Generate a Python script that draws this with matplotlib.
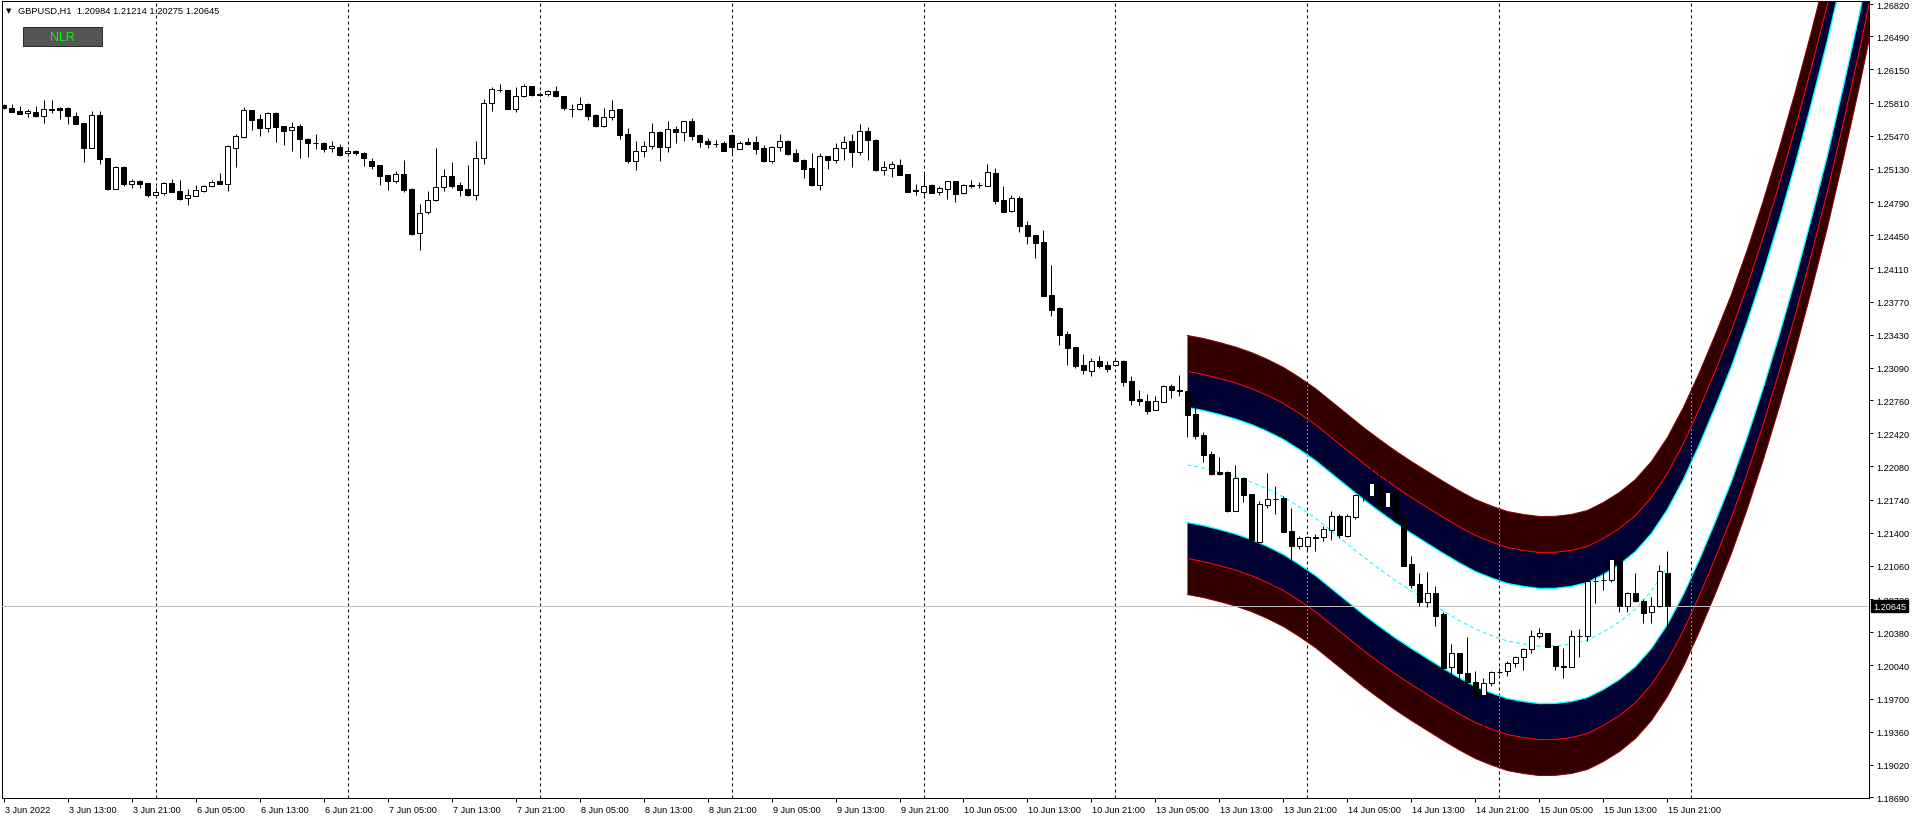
import matplotlib
matplotlib.use("Agg")
import numpy as np
import matplotlib.pyplot as plt
from matplotlib.patches import Rectangle
from matplotlib.transforms import ScaledTranslation, blended_transform_factory

# GBPUSD H1 candles, 3 Jun 05:00 .. 15 Jun 21:00 (one entry per hour bar)
opens = [
    1.25784, 1.25754, 1.25723, 1.25699, 1.25713, 1.25675, 1.25740, 1.25754, 1.25754, 1.25672,
    1.25600, 1.25347, 1.25682, 1.25241, 1.24927, 1.25149, 1.24978, 1.25002, 1.24985, 1.24865,
    1.24886, 1.24981, 1.24899, 1.24828, 1.24855, 1.24906, 1.24951, 1.25002, 1.24978, 1.25347,
    1.25460, 1.25730, 1.25638, 1.25545, 1.25702, 1.25569, 1.25525, 1.25569, 1.25436, 1.25395,
    1.25395, 1.25340, 1.25354, 1.25292, 1.25313, 1.25292, 1.25214, 1.25169, 1.25063, 1.25009,
    1.25077, 1.24923, 1.24469, 1.24684, 1.24807, 1.24940, 1.25053, 1.24961, 1.24923, 1.24865,
    1.25238, 1.25802, 1.25942, 1.25938, 1.25747, 1.25873, 1.25976, 1.25901, 1.25894, 1.25925,
    1.25873, 1.25743, 1.25740, 1.25791, 1.25682, 1.25573, 1.25658, 1.25743, 1.25487, 1.25214,
    1.25309, 1.25368, 1.25511, 1.25357, 1.25538, 1.25504, 1.25617, 1.25473, 1.25415, 1.25388,
    1.25395, 1.25473, 1.25337, 1.25402, 1.25405, 1.25344, 1.25214, 1.25350, 1.25415, 1.25289,
    1.25221, 1.25139, 1.24968, 1.25258, 1.25224, 1.25340, 1.25415, 1.25306, 1.25518, 1.25426,
    1.25121, 1.25142, 1.25169, 1.25077, 1.24910, 1.24896, 1.24964, 1.24889, 1.24927, 1.25002,
    1.24879, 1.24961, 1.24968, 1.24957, 1.25087, 1.24807, 1.24701, 1.24831, 1.24554, 1.24452,
    1.24380, 1.23837, 1.23704, 1.23437, 1.23300, 1.23119, 1.23061, 1.23160, 1.23119, 1.23123,
    1.23157, 1.22952, 1.22771, 1.22754, 1.22661, 1.22743, 1.22904, 1.22860, 1.22849, 1.22616,
    1.22401, 1.22206, 1.22018, 1.22018, 1.21625, 1.21957, 1.21796, 1.21307, 1.21687, 1.21745,
    1.21752, 1.21417, 1.21266, 1.21266, 1.21352, 1.21359, 1.21430, 1.21567, 1.21369, 1.21557,
    1.21786, 1.21772, 1.21909, 1.21666, 1.21813, 1.21546, 1.21078, 1.20873, 1.20685, 1.20781,
    1.20566, 1.20019, 1.20162, 1.19961, 1.19865, 1.19739, 1.19855, 1.19968, 1.19978, 1.20060,
    1.20121, 1.20207, 1.20337, 1.20367, 1.20234, 1.20029, 1.20026, 1.20337, 1.20337, 1.20908,
    1.20914, 1.20918, 1.21136, 1.20644, 1.20777, 1.20696, 1.20583, 1.20644, 1.20984,
]
highs = [
    1.25795, 1.25795, 1.25771, 1.25743, 1.25771, 1.25836, 1.25836, 1.25761, 1.25761, 1.25716,
    1.25600, 1.25726, 1.25726, 1.25241, 1.25156, 1.25156, 1.25026, 1.25016, 1.24985, 1.24940,
    1.24992, 1.25026, 1.25016, 1.24923, 1.24964, 1.24964, 1.25016, 1.25087, 1.25374, 1.25487,
    1.25767, 1.25730, 1.25692, 1.25709, 1.25709, 1.25569, 1.25607, 1.25586, 1.25446, 1.25487,
    1.25409, 1.25419, 1.25385, 1.25350, 1.25327, 1.25299, 1.25238, 1.25169, 1.25067, 1.25111,
    1.25221, 1.24930, 1.24766, 1.24906, 1.25344, 1.25128, 1.25197, 1.24992, 1.25169, 1.25419,
    1.25846, 1.25966, 1.26000, 1.25938, 1.25966, 1.26000, 1.25983, 1.25914, 1.25938, 1.25976,
    1.25880, 1.25798, 1.25863, 1.25802, 1.25696, 1.25750, 1.25832, 1.25743, 1.25549, 1.25412,
    1.25412, 1.25600, 1.25521, 1.25617, 1.25573, 1.25624, 1.25648, 1.25487, 1.25446, 1.25426,
    1.25415, 1.25487, 1.25415, 1.25443, 1.25463, 1.25374, 1.25361, 1.25487, 1.25426, 1.25333,
    1.25231, 1.25292, 1.25292, 1.25265, 1.25395, 1.25463, 1.25487, 1.25590, 1.25555, 1.25436,
    1.25207, 1.25210, 1.25231, 1.25077, 1.24971, 1.25074, 1.24971, 1.24957, 1.25009, 1.25005,
    1.24971, 1.25015, 1.24995, 1.25180, 1.25139, 1.24954, 1.24862, 1.24855, 1.24592, 1.24452,
    1.24503, 1.24145, 1.23711, 1.23471, 1.23300, 1.23232, 1.23191, 1.23208, 1.23164, 1.23191,
    1.23171, 1.23003, 1.22863, 1.22822, 1.22798, 1.22914, 1.22925, 1.23017, 1.22849, 1.22787,
    1.22428, 1.22233, 1.22172, 1.22032, 1.22093, 1.21967, 1.21799, 1.21721, 1.22011, 1.21875,
    1.21772, 1.21652, 1.21369, 1.21369, 1.21386, 1.21464, 1.21618, 1.21591, 1.21591, 1.21796,
    1.21967, 1.22076, 1.22076, 1.22001, 1.21823, 1.21550, 1.21164, 1.20986, 1.20999, 1.20856,
    1.20590, 1.20258, 1.20166, 1.20326, 1.19985, 1.19910, 1.19985, 1.20009, 1.20087, 1.20132,
    1.20217, 1.20402, 1.20419, 1.20367, 1.20241, 1.20217, 1.20402, 1.20412, 1.20924, 1.21027,
    1.21054, 1.21200, 1.21164, 1.20788, 1.20986, 1.20719, 1.20743, 1.21068, 1.21214,
]
lows = [
    1.25743, 1.25709, 1.25689, 1.25658, 1.25658, 1.25597, 1.25699, 1.25641, 1.25590, 1.25590,
    1.25204, 1.25340, 1.25180, 1.24916, 1.24923, 1.24957, 1.24934, 1.24934, 1.24845, 1.24855,
    1.24865, 1.24889, 1.24814, 1.24759, 1.24848, 1.24896, 1.24940, 1.24978, 1.24906, 1.25152,
    1.25443, 1.25532, 1.25470, 1.25504, 1.25409, 1.25378, 1.25316, 1.25245, 1.25255, 1.25333,
    1.25306, 1.25306, 1.25258, 1.25282, 1.25272, 1.25156, 1.25128, 1.24964, 1.24916, 1.24985,
    1.24889, 1.24455, 1.24301, 1.24667, 1.24800, 1.24906, 1.24930, 1.24855, 1.24848, 1.24814,
    1.25180, 1.25726, 1.25914, 1.25743, 1.25716, 1.25863, 1.25880, 1.25880, 1.25880, 1.25866,
    1.25737, 1.25658, 1.25730, 1.25631, 1.25562, 1.25555, 1.25634, 1.25436, 1.25186, 1.25118,
    1.25255, 1.25333, 1.25214, 1.25306, 1.25391, 1.25419, 1.25429, 1.25354, 1.25344, 1.25350,
    1.25309, 1.25282, 1.25333, 1.25374, 1.25282, 1.25200, 1.25190, 1.25316, 1.25275, 1.25203,
    1.25036, 1.24957, 1.24913, 1.25128, 1.25190, 1.25221, 1.25152, 1.25272, 1.25221, 1.25104,
    1.25067, 1.25046, 1.25063, 1.24893, 1.24862, 1.24862, 1.24879, 1.24865, 1.24821, 1.24793,
    1.24872, 1.24930, 1.24930, 1.24951, 1.24770, 1.24688, 1.24691, 1.24486, 1.24359, 1.24216,
    1.23823, 1.23625, 1.23324, 1.23119, 1.23092, 1.23027, 1.23010, 1.23089, 1.23051, 1.23112,
    1.22907, 1.22713, 1.22709, 1.22617, 1.22661, 1.22737, 1.22778, 1.22805, 1.22385, 1.22360,
    1.22127, 1.21991, 1.21991, 1.21615, 1.21622, 1.21717, 1.21239, 1.21307, 1.21652, 1.21591,
    1.21403, 1.21095, 1.21232, 1.21215, 1.21215, 1.21317, 1.21328, 1.21345, 1.21352, 1.21540,
    1.21728, 1.21728, 1.21652, 1.21649, 1.21512, 1.21054, 1.20829, 1.20644, 1.20634, 1.20439,
    1.20002, 1.19933, 1.19899, 1.19865, 1.19728, 1.19370, 1.19831, 1.19951, 1.19933, 1.20019,
    1.19995, 1.20166, 1.20316, 1.20224, 1.19995, 1.19906, 1.20019, 1.20128, 1.20292, 1.20678,
    1.20812, 1.20890, 1.20590, 1.20583, 1.20685, 1.20473, 1.20473, 1.20634, 1.20275,
]
closes = [
    1.25750, 1.25716, 1.25696, 1.25723, 1.25675, 1.25740, 1.25737, 1.25737, 1.25668, 1.25593,
    1.25347, 1.25682, 1.25234, 1.24923, 1.25145, 1.24975, 1.25002, 1.24978, 1.24862, 1.24889,
    1.24981, 1.24896, 1.24821, 1.24862, 1.24910, 1.24951, 1.24992, 1.24978, 1.25361, 1.25463,
    1.25730, 1.25634, 1.25545, 1.25699, 1.25562, 1.25518, 1.25562, 1.25439, 1.25391, 1.25391,
    1.25337, 1.25361, 1.25272, 1.25313, 1.25292, 1.25245, 1.25163, 1.25060, 1.25009, 1.25077,
    1.24916, 1.24465, 1.24674, 1.24807, 1.24940, 1.25053, 1.24951, 1.24916, 1.24862, 1.25238,
    1.25802, 1.25948, 1.25938, 1.25747, 1.25873, 1.25976, 1.25890, 1.25887, 1.25925, 1.25873,
    1.25750, 1.25740, 1.25791, 1.25675, 1.25573, 1.25658, 1.25737, 1.25480, 1.25214, 1.25309,
    1.25361, 1.25504, 1.25357, 1.25535, 1.25504, 1.25617, 1.25470, 1.25409, 1.25381, 1.25385,
    1.25316, 1.25357, 1.25391, 1.25381, 1.25333, 1.25207, 1.25350, 1.25415, 1.25282, 1.25210,
    1.25128, 1.24964, 1.25258, 1.25224, 1.25340, 1.25402, 1.25303, 1.25514, 1.25429, 1.25118,
    1.25145, 1.25176, 1.25070, 1.24896, 1.24906, 1.24951, 1.24886, 1.24930, 1.25002, 1.24875,
    1.24961, 1.24958, 1.24965, 1.25094, 1.24804, 1.24691, 1.24828, 1.24547, 1.24445, 1.24373,
    1.23830, 1.23687, 1.23427, 1.23290, 1.23112, 1.23071, 1.23157, 1.23109, 1.23082, 1.23157,
    1.22948, 1.22764, 1.22754, 1.22651, 1.22747, 1.22901, 1.22860, 1.22857, 1.22610, 1.22394,
    1.22199, 1.22001, 1.22001, 1.21618, 1.21957, 1.21789, 1.21328, 1.21693, 1.21745, 1.21742,
    1.21410, 1.21266, 1.21341, 1.21352, 1.21349, 1.21437, 1.21567, 1.21379, 1.21567, 1.21786,
    1.21783, 1.21909, 1.21670, 1.21813, 1.21533, 1.21061, 1.20866, 1.20692, 1.20781, 1.20549,
    1.20012, 1.20162, 1.19957, 1.19865, 1.19728, 1.19855, 1.19968, 1.19975, 1.20060, 1.20121,
    1.20207, 1.20337, 1.20367, 1.20231, 1.20029, 1.20026, 1.20337, 1.20340, 1.20901, 1.20905,
    1.20918, 1.21129, 1.20644, 1.20777, 1.20696, 1.20576, 1.20651, 1.21003, 1.20645,
]

xtick_labels = [
    "3 Jun 2022", "3 Jun 13:00", "3 Jun 21:00", "6 Jun 05:00", "6 Jun 13:00", "6 Jun 21:00",
    "7 Jun 05:00", "7 Jun 13:00", "7 Jun 21:00", "8 Jun 05:00", "8 Jun 13:00", "8 Jun 21:00",
    "9 Jun 05:00", "9 Jun 13:00", "9 Jun 21:00", "10 Jun 05:00", "10 Jun 13:00", "10 Jun 21:00",
    "13 Jun 05:00", "13 Jun 13:00", "13 Jun 21:00", "14 Jun 05:00", "14 Jun 13:00", "14 Jun 21:00",
    "15 Jun 05:00", "15 Jun 13:00", "15 Jun 21:00",
]
xtick_bars = [8 * k for k in range(len(xtick_labels))]
ytick_values = [
    1.26820, 1.26490, 1.26150, 1.25810, 1.25470, 1.25130, 1.24790, 1.24450, 1.24110,
    1.23770, 1.23430, 1.23090, 1.22760, 1.22420, 1.22080, 1.21740, 1.21400, 1.21060,
    1.20720, 1.20380, 1.20040, 1.19700, 1.19360, 1.19020, 1.18690,
]
day_start_bars = [19, 43, 67, 91, 115, 139, 163, 187, 211]

# non-linear regression channel: centre line sampled every 2 bars, plus band widths
nlr_bars = list(range(148, 237, 2))
nlr_center = [
    1.22094, 1.22063, 1.22022, 1.21976, 1.21919, 1.21848, 1.21766, 1.21663, 1.21550, 1.21417,
    1.21284, 1.21151, 1.21028, 1.20910, 1.20802, 1.20699, 1.20597, 1.20500, 1.20412, 1.20346,
    1.20289, 1.20259, 1.20238, 1.20240, 1.20259, 1.20300, 1.20382, 1.20484, 1.20617, 1.20802,
    1.21048, 1.21356, 1.21714, 1.22104, 1.22514, 1.22975, 1.23478, 1.24021, 1.24595, 1.25210,
    1.25856, 1.26564, 1.27302, 1.28091, 1.28922,
]
nlr_inner, nlr_mid, nlr_outer = 0.00590, 0.00959, 0.01328
last_bar = 208
last_price = 1.20645
header = "GBPUSD,H1  1.20984 1.21214 1.20275 1.20645"

W, H = 1916, 820
fig = plt.figure(figsize=(W / 100, H / 100), dpi=100)
fig.patch.set_facecolor("white")
left, right, top, bottom = 2, 1869, 2, 799
ax = fig.add_axes([left / W, 1 - bottom / H, (right - left) / W, (bottom - top) / H])
ax.set_xlim(-0.2, 233.2)
ax.set_ylim(1.18680, 1.26851)
px = 0.72  # one pixel in points

font = "Liberation Sans"

# period separators
for b in day_start_bars:
    ax.axvline(b, color="black", lw=px, ls=(0, (3, 3)), zorder=1)

# channel
xb = np.array(nlr_bars)
cc = np.array(nlr_center)
maroon, navy = "#330000", "#000033"
fills = [
    ax.fill_between(xb, cc + nlr_mid, cc + nlr_outer, color=maroon, lw=0, zorder=2),
    ax.fill_between(xb, cc + nlr_inner, cc + nlr_mid, color=navy, lw=0, zorder=2),
    ax.fill_between(xb, cc - nlr_mid, cc - nlr_inner, color=navy, lw=0, zorder=2),
    ax.fill_between(xb, cc - nlr_outer, cc - nlr_mid, color=maroon, lw=0, zorder=2),
]
# separators show up light where they cross the dark channel
for poly in fills:
    for b in day_start_bars:
        if b >= nlr_bars[0]:
            sep = ax.axvline(b, color="white", lw=px, ls=(0, (1, 3)), zorder=2.2)
            sep.set_clip_path(poly.get_paths()[0], ax.transData)
for sign in (1, -1):
    ax.plot(xb, cc + sign * nlr_outer, color="#8b0000", lw=px, zorder=2.5)
    ax.plot(xb, cc + sign * nlr_mid, color="#ff0000", lw=px, zorder=2.5)
    ax.plot(xb, cc + sign * nlr_inner, color="#00ffff", lw=1.3 * px, zorder=2.5)
hist = xb <= last_bar
ax.plot(xb[hist], cc[hist], color="#00ffff", lw=px, ls=(0, (4, 3)), zorder=2.5)

# current price line
ax.axhline(last_price, color="#c0c0c0", lw=px, zorder=3)

# candles
o = np.array(opens)
h = np.array(highs)
l = np.array(lows)
c = np.array(closes)
x = np.arange(len(o))
bull = c >= o
ax.vlines(x, l, h, color="black", lw=px, zorder=4)
body_lo = np.minimum(o, c)
body_h = np.maximum(np.abs(c - o), 0.00002)
ax.bar(x, body_h, bottom=body_lo, width=0.6, color=np.where(bull, "white", "black"),
       edgecolor="black", linewidth=px, zorder=5)

# axes styling
for s in ax.spines.values():
    s.set_linewidth(px)
    s.set_color("black")
ax.yaxis.tick_right()
ax.set_yticks(ytick_values)
ax.set_yticklabels([f"{v:.5f}" for v in ytick_values], fontfamily=font, fontsize=6.6)
ax.set_xticks(xtick_bars)
ax.set_xticklabels(xtick_labels, fontfamily=font, fontsize=6.6, ha="left")
ax.tick_params(axis="both", direction="out", length=3, width=px, pad=2, colors="black")
shift = ScaledTranslation(1 / 100, 0, fig.dpi_scale_trans)
for lab in ax.get_xticklabels():
    lab.set_transform(lab.get_transform() + shift)

# last price marker on the price scale
tr = blended_transform_factory(ax.transAxes, ax.transData)
ax.text(1.0, last_price, "1.20645", transform=tr + ScaledTranslation(4 / 100, 0, fig.dpi_scale_trans),
        ha="left", va="center", color="white", fontfamily=font, fontsize=6.6,
        bbox=dict(facecolor="black", edgecolor="black", pad=1.2), zorder=10, clip_on=False)

# header and button
fig.text(6 / W, 1 - 11 / H, "\u25bc", fontsize=5, color="black", va="center", ha="left",
         fontfamily="DejaVu Sans")
fig.text(18 / W, 1 - 11 / H, header, fontsize=6.7, color="black", va="center", ha="left",
         fontfamily=font)
fig.add_artist(Rectangle((23 / W, 1 - 47 / H), 79 / W, 19 / H, transform=fig.transFigure,
                         facecolor="#555555", edgecolor="#2a2a2a", lw=px))
fig.text(62.5 / W, 1 - 38 / H, "NLR", fontsize=9, color="#00ff00", va="center", ha="center",
         fontfamily=font)

fig.savefig("out.png", dpi=100)
